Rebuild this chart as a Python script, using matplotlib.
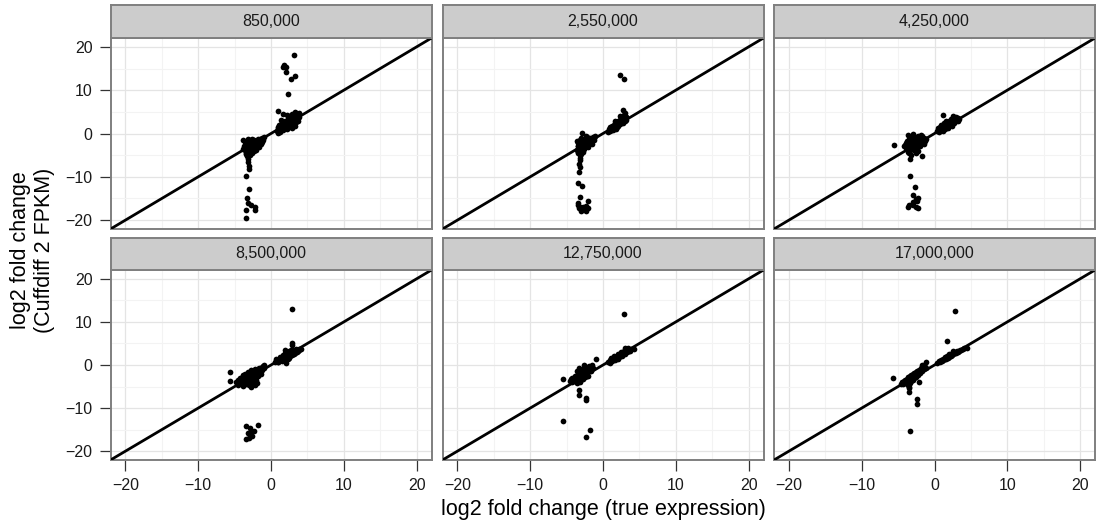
import matplotlib
matplotlib.use("Agg")
import matplotlib.pyplot as plt

plt.rcParams['font.family'] = ['Liberation Sans', 'DejaVu Sans']

# ---------------- data ----------------
facet_labels = ["850,000", "2,550,000", "4,250,000",
                "8,500,000", "12,750,000", "17,000,000"]

pts_850k = [
    # negative cluster
    (-3.8, -1.5), (-3.7, -2.8), (-3.6, -3.9), (-3.5, -4.8), (-3.4, -2.2), (-3.3, -3.3),
    (-3.2, -1.2), (-3.1, -4.1), (-3.0, -2.6), (-2.9, -3.6), (-2.8, -1.8), (-2.7, -2.9),
    (-2.6, -4.4), (-2.5, -2.1), (-2.4, -3.2), (-2.3, -1.4), (-2.2, -2.5), (-2.1, -3.7),
    (-2.0, -1.9), (-1.9, -2.8), (-1.8, -1.3), (-1.7, -2.2), (-1.6, -3.1), (-1.5, -1.7),
    (-1.4, -2.5), (-1.3, -1.1), (-1.2, -1.9), (-1.1, -1.4), (-3.6, -2.0), (-3.3, -5.2),
    (-2.9, -4.9), (-3.5, -3.0), (-2.6, -1.3), (-2.0, -3.0), (-1.0, -0.9), (-3.9, -3.5),
    (-3.0, -1.6), (-2.4, -4.0), (-3.7, -3.3), (-3.4, -4.4), (-3.2, -2.7), (-2.8, -2.4),
    (-2.5, -3.6), (-2.2, -1.8), (-1.9, -2.2), (-1.6, -2.0), (-3.0, -3.2), (-3.5, -1.9),
    (-2.7, -3.8), (-2.3, -2.9), (-1.5, -1.2), (-1.2, -1.4),
    # negative tail
    (-3.2, -5.8), (-3.1, -6.5), (-3.07, -7.5), (-3.07, -8.3), (-3.4, -9.8), (-3.0, -12.7),
    (-3.25, -15.0), (-3.1, -16.0), (-2.7, -16.5), (-2.25, -16.9), (-2.2, -17.7),
    (-3.4, -17.7), (-3.5, -19.5),
    # positive cluster
    (0.8, 0.5), (0.9, 1.3), (1.0, 0.2), (1.1, 2.0), (1.2, 1.0), (1.3, 0.6), (1.4, 1.8),
    (1.5, 2.6), (1.6, 1.2), (1.7, 0.8), (1.8, 2.2), (1.9, 3.0), (2.0, 1.5), (2.1, 2.7),
    (2.2, 1.0), (2.3, 3.4), (2.4, 2.0), (2.5, 4.0), (2.6, 2.5), (2.7, 1.4), (2.8, 3.2),
    (2.9, 4.6), (3.0, 2.2), (3.1, 3.8), (3.2, 2.9), (3.3, 4.9), (3.4, 3.3), (3.5, 2.6),
    (3.6, 4.2), (3.7, 3.5), (3.8, 4.8), (2.2, 4.3), (1.4, 3.1), (2.9, 1.2), (3.3, 1.8),
    (3.9, 3.9), (1.0, 1.6), (1.2, 0.4), (1.6, 2.0), (2.0, 2.4), (2.4, 3.0), (2.6, 1.8),
    (2.8, 2.4), (3.0, 3.4), (3.2, 4.2), (3.5, 3.8), (3.7, 2.9), (2.3, 1.6), (1.8, 1.4),
    (3.4, 4.5), (2.7, 3.8),
    # positive tail
    (0.9, 5.1), (1.7, 4.4), (2.3, 9.2), (2.75, 12.5), (3.3, 13.2), (2.1, 14.1),
    (1.6, 15.4), (2.07, 15.4), (1.75, 15.8), (3.1, 18.2),
]

pts_2550k = [
    (-3.6, -1.8), (-3.5, -3.0), (-3.4, -4.2), (-3.3, -2.4), (-3.2, -3.6), (-3.1, -1.4),
    (-3.0, -4.8), (-2.9, -2.8), (-2.8, -1.9), (-2.7, -3.3), (-2.6, -2.4), (-2.5, -1.2),
    (-2.4, -3.0), (-2.3, -2.0), (-2.2, -0.8), (-2.1, -2.7), (-2.0, -1.6), (-1.9, -2.3),
    (-1.8, -1.0), (-1.7, -1.9), (-1.6, -1.3), (-1.5, -2.5), (-1.4, -0.9), (-1.3, -1.6),
    (-1.2, -1.1), (-1.1, -0.6), (-3.5, -2.2), (-3.2, -5.0), (-2.8, -4.2), (-2.9, 0.1),
    (-2.4, -0.5), (-3.0, -3.9), (-2.0, -3.2), (-3.6, -3.8), (-3.4, -3.0), (-3.3, -1.8),
    (-3.1, -2.4), (-2.9, -3.4), (-2.7, -2.1), (-2.5, -2.6), (-2.3, -1.4), (-2.2, -2.2),
    (-1.9, -1.5), (-1.7, -1.2), (-3.5, -4.4), (-3.0, -1.0), (-2.6, -3.6), (-1.4, -1.5),
    (-3.2, -5.6), (-3.2, -6.2), (-3.25, -7.0), (-3.2, -7.7), (-3.3, -8.9), (-3.5, -11.4),
    (-2.95, -12.2), (-3.2, -14.6), (-2.05, -15.5), (-3.4, -16.1), (-3.5, -16.5),
    (-3.2, -16.9), (-2.8, -16.9), (-2.4, -16.8), (-2.0, -17.2), (-3.0, -17.8),
    (-2.3, -18.0), (-3.3, -17.3),
    (0.7, 0.4), (0.8, 1.0), (0.9, 0.6), (1.0, 1.4), (1.1, 0.9), (1.2, 1.8), (1.3, 1.2),
    (1.4, 0.7), (1.5, 2.0), (1.6, 1.5), (1.7, 2.4), (1.8, 1.1), (1.9, 2.0), (2.0, 2.8),
    (2.1, 1.7), (2.2, 2.5), (2.3, 3.2), (2.4, 2.1), (2.5, 2.9), (2.6, 3.6), (2.7, 2.5),
    (2.8, 3.3), (2.9, 4.3), (3.0, 2.9), (3.1, 3.7), (3.2, 3.2), (2.7, 5.4), (2.4, 4.0),
    (1.6, 2.9), (3.0, 4.8), (1.2, 1.3), (1.5, 1.4), (1.8, 1.8), (2.1, 2.2), (2.3, 2.6),
    (2.6, 2.8), (2.8, 2.7), (3.0, 3.4), (3.2, 3.9), (2.5, 3.5), (1.9, 1.6), (2.9, 3.8),
    (2.28, 13.5), (2.82, 12.5),
]

pts_4250k = [
    (-4.0, -2.6), (-3.9, -3.4), (-3.8, -1.8), (-3.7, -4.2), (-3.6, -2.8), (-3.5, -1.2),
    (-3.4, -3.7), (-3.3, -2.2), (-3.2, -4.9), (-3.1, -3.0), (-3.0, -1.5), (-2.9, -2.5),
    (-2.8, -3.8), (-2.7, -0.8), (-2.6, -2.0), (-2.5, -3.2), (-2.4, -1.4), (-2.3, -2.6),
    (-2.2, -0.5), (-2.1, -1.8), (-2.0, -3.0), (-1.9, -1.1), (-1.8, -2.2), (-1.7, -0.6),
    (-1.6, -1.6), (-1.5, -2.4), (-1.4, -1.0), (-1.3, -1.8), (-1.2, -1.2), (-3.3, -5.8),
    (-1.7, -5.2), (-2.6, -4.4), (-3.6, -0.4), (-2.9, 0.0), (-4.2, -3.0), (-2.2, -4.0),
    (-3.9, -2.2), (-3.7, -3.0), (-3.4, -2.8), (-3.2, -1.8), (-3.0, -3.6), (-2.8, -1.6),
    (-2.7, -2.8), (-2.5, -1.8), (-2.3, -1.2), (-2.1, -2.4), (-1.9, -1.8), (-1.6, -1.1),
    (-3.5, -4.4), (-2.4, -3.4), (-1.8, -0.4), (-3.1, -0.8),
    (-5.6, -2.7),
    (-3.3, -9.8), (-2.7, -12.3), (-2.9, -14.1), (-2.6, -15.2), (-2.4, -15.6), (-2.9, -15.9),
    (-2.2, -15.0), (-3.5, -16.4), (-3.0, -16.6), (-2.6, -16.9), (-3.7, -17.0), (-2.3, -17.3),
    (0.4, 0.6), (0.5, 1.2), (0.6, 0.3), (0.7, 1.5), (0.8, 0.9), (0.9, 2.0), (1.0, 1.2),
    (1.1, 0.5), (1.2, 1.8), (1.3, 2.5), (1.4, 1.1), (1.5, 2.1), (1.6, 3.0), (1.7, 1.6),
    (1.8, 2.4), (1.9, 1.3), (2.0, 2.9), (2.1, 2.0), (2.2, 3.3), (2.3, 2.5), (2.4, 1.8),
    (2.5, 3.0), (2.6, 3.6), (2.7, 2.4), (2.8, 3.2), (2.9, 2.8), (3.0, 3.8), (3.1, 3.1),
    (3.2, 3.5), (3.3, 3.3), (1.2, 4.2), (2.5, 4.0), (0.9, 1.3), (1.1, 1.6), (1.4, 1.9),
    (1.7, 2.2), (1.9, 2.1), (2.1, 2.6), (2.3, 2.9), (2.6, 2.8), (2.8, 2.8), (3.0, 3.1),
    (2.7, 3.6), (3.2, 3.0), (1.6, 1.6),
]

pts_8500k = [
    (-4.8, -4.0), (-4.6, -3.4), (-4.5, -4.6), (-4.3, -3.0), (-4.2, -4.1), (-4.0, -3.6),
    (-3.9, -2.4), (-3.8, -4.8), (-3.7, -3.2), (-3.6, -2.0), (-3.5, -4.3), (-3.4, -2.8),
    (-3.3, -3.8), (-3.2, -1.6), (-3.1, -3.0), (-3.0, -4.6), (-2.9, -2.2), (-2.8, -3.4),
    (-2.7, -1.2), (-2.6, -2.6), (-2.5, -3.9), (-2.4, -1.8), (-2.3, -2.9), (-2.2, -0.9),
    (-2.1, -2.2), (-2.0, -3.4), (-1.9, -1.4), (-1.8, -2.5), (-1.7, -0.6), (-1.6, -1.7),
    (-1.5, -1.0), (-1.4, -2.0), (-1.3, -0.4), (-1.2, -1.2), (-1.1, -0.2), (-1.0, -0.8),
    (-0.9, 0.1), (-2.2, -4.6), (-2.8, -5.0), (-1.9, -4.2), (-4.4, -3.6), (-4.1, -3.0),
    (-3.8, -3.6), (-3.6, -3.2), (-3.4, -4.0), (-3.2, -2.6), (-3.0, -3.4), (-2.8, -2.6),
    (-2.6, -1.8), (-2.4, -3.0), (-2.2, -2.0), (-2.0, -1.6), (-1.8, -1.0), (-1.6, -1.0),
    (-3.9, -4.2), (-2.5, -2.2), (-2.1, -1.2), (-1.4, -0.9),
    (-5.7, -1.6), (-5.7, -3.8),
    (-3.4, -14.2), (-1.8, -13.9), (-2.9, -14.7), (-2.7, -15.3), (-2.3, -15.4),
    (-3.1, -15.8), (-2.6, -16.4), (-3.4, -17.2), (-3.0, -16.9),
    (0.5, 0.8), (0.7, 1.4), (0.9, 0.6), (1.1, 1.2), (1.3, 1.8), (1.5, 0.9), (1.6, 2.3),
    (1.8, 1.6), (1.9, 2.7), (2.0, 0.5), (2.1, 2.0), (2.2, 2.9), (2.3, 1.4), (2.4, 2.4),
    (2.5, 3.2), (2.6, 2.0), (2.7, 2.8), (2.8, 3.5), (2.9, 2.3), (3.0, 3.0), (3.1, 2.6),
    (3.2, 3.3), (3.3, 2.9), (3.5, 3.6), (3.7, 3.2), (3.9, 3.8), (4.1, 3.6), (2.9, 4.7),
    (2.9, 5.1), (1.9, 3.4), (1.0, 0.8), (1.4, 1.3), (1.7, 2.0), (2.0, 1.8), (2.2, 2.2),
    (2.4, 3.0), (2.6, 2.6), (2.8, 2.6), (3.0, 3.4), (3.2, 2.8), (3.4, 3.3), (3.6, 3.0),
    (3.8, 3.4), (2.5, 1.6),
    (2.86, 12.9),
]

pts_12750k = [
    (-4.5, -3.6), (-4.3, -3.0), (-4.2, -4.0), (-4.0, -3.3), (-3.9, -2.5), (-3.8, -3.8),
    (-3.7, -2.9), (-3.6, -4.2), (-3.5, -2.2), (-3.4, -3.4), (-3.3, -1.7), (-3.2, -2.7),
    (-3.1, -3.9), (-3.0, -1.4), (-2.9, -2.4), (-2.8, -3.3), (-2.7, -1.0), (-2.6, -2.0),
    (-2.5, -2.9), (-2.4, -0.9), (-2.3, -1.7), (-2.2, -2.6), (-2.1, -0.6), (-2.0, -1.4),
    (-1.9, -0.2), (-1.8, -1.0), (-1.7, -0.5), (-1.6, -1.3), (-1.5, 0.0), (-1.4, -0.6),
    (-3.3, -0.6), (-2.6, 0.1), (-2.0, -2.5), (-3.6, -1.4), (-4.4, -3.3), (-4.1, -3.6),
    (-3.8, -2.8), (-3.6, -3.2), (-3.5, -3.0), (-3.3, -3.0), (-3.1, -2.2), (-2.9, -1.8),
    (-2.7, -2.4), (-2.5, -1.6), (-2.4, -2.2), (-2.2, -1.2), (-2.0, -0.8), (-1.8, -1.5),
    (-3.0, -3.0), (-3.2, -3.6),
    (-1.0, 1.4), (-5.5, -3.2), (-3.3, -5.9), (-3.3, -6.9), (-2.3, -7.6), (-2.3, -8.2),
    (-5.5, -13.0), (-1.8, -15.1), (-2.4, -16.6),
    (0.7, 0.6), (0.9, 1.2), (1.0, 0.4), (1.1, 1.6), (1.2, 0.9), (1.4, 1.4), (1.5, 2.0),
    (1.6, 1.1), (1.7, 1.8), (1.9, 2.2), (2.0, 1.5), (2.1, 2.6), (2.2, 1.9), (2.4, 2.4),
    (2.5, 3.0), (2.6, 2.1), (2.7, 2.8), (2.9, 3.2), (3.0, 2.6), (3.1, 3.4), (3.3, 3.0),
    (3.5, 3.6), (3.7, 3.2), (3.4, 4.0), (3.0, 3.9), (1.3, 1.2), (1.8, 1.6), (2.3, 2.2),
    (2.8, 2.5), (3.2, 3.0), (3.6, 3.3), (3.9, 3.6), (4.2, 3.7), (2.0, 2.0), (2.6, 2.6),
    (3.4, 3.4),
    (2.9, 11.9),
]

pts_17000k = [
    (-4.6, -4.3), (-4.4, -3.9), (-4.3, -4.5), (-4.2, -3.6), (-4.1, -4.2), (-4.0, -3.5),
    (-3.9, -4.0), (-3.8, -3.2), (-3.7, -4.6), (-3.7, -3.7), (-3.6, -2.9), (-3.5, -5.0),
    (-3.5, -3.4), (-3.4, -2.6), (-3.4, -4.2), (-3.3, -3.1), (-3.2, -2.4), (-3.2, -3.8),
    (-3.1, -2.9), (-3.0, -2.1), (-3.0, -3.5), (-2.9, -2.6), (-2.8, -1.9), (-2.8, -3.1),
    (-2.7, -2.3), (-2.6, -1.6), (-2.6, -2.8), (-2.5, -2.0), (-2.4, -1.4), (-2.3, -2.3),
    (-2.2, -1.7), (-2.1, -1.1), (-2.0, -1.9), (-1.9, -1.3), (-1.8, -0.8), (-1.7, -1.4),
    (-1.6, -0.9), (-1.5, -0.5), (-1.4, -1.0), (-1.3, -0.4), (-1.2, -0.7), (-2.1, -3.9),
    (-3.5, -5.4), (-1.7, -0.1), (-1.5, 0.1),
    (-1.1, 0.8), (-5.7, -3.0), (-2.4, -8.0), (-2.4, -9.0), (-3.5, -6.2), (-3.3, -15.3),
    (1.7, 5.6), (2.86, 12.5),
    (0.4, 0.5), (0.6, 0.9), (0.8, 0.7), (0.9, 1.2), (1.0, 0.9), (1.1, 1.4), (1.2, 1.1),
    (1.3, 1.5), (1.4, 1.3), (1.5, 1.8), (1.6, 1.5), (1.7, 2.0), (1.8, 1.7), (1.9, 2.2),
    (2.0, 1.9), (2.1, 2.4), (2.2, 2.1), (2.3, 2.6), (2.4, 2.3), (2.5, 2.8), (2.6, 2.5),
    (2.7, 2.9), (2.8, 2.7), (2.9, 3.1), (3.0, 2.8), (3.1, 3.2), (3.2, 3.0), (3.3, 3.3),
    (3.5, 3.4), (3.7, 3.5), (3.9, 3.7), (4.1, 3.9), (4.4, 4.0), (2.0, 2.6), (2.5, 3.2),
]

panel_points = [pts_850k, pts_2550k, pts_4250k, pts_8500k, pts_12750k, pts_17000k]
tick_values = [-20, -10, 0, 10, 20]
minor_values = [-15, -5, 5, 15]
x_title = "log2 fold change (true expression)"
y_title = "log2 fold change\n(Cuffdiff 2 FPKM)"

# ---------------- layout ----------------
W, H = 1096, 525
fig = plt.figure(figsize=(W / 100, H / 100), dpi=100)
fig.patch.set_facecolor('white')

col_left = [110.5, 442.5, 774.0]
col_w = 321.0
row_plot = [(38.0, 229.0), (270.0, 460.0)]   # top, bottom in px
row_strip = [(5.0, 38.0), (238.0, 270.0)]

lim = 22.05
border_col = '#7f7f7f'

def fmt(v):
    return str(v).replace('-', '\u2212')

for i, pts in enumerate(panel_points):
    r, c = divmod(i, 3)
    top, bot = row_plot[r]
    ax = fig.add_axes([col_left[c] / W, 1 - bot / H, col_w / W, (bot - top) / H])
    ax.set_xlim(-lim, lim)
    ax.set_ylim(-lim, lim)
    ax.set_xticks(tick_values)
    ax.set_yticks(tick_values)
    ax.set_xticks(minor_values, minor=True)
    ax.set_yticks(minor_values, minor=True)
    ax.grid(True, which='major', color='#e4e4e4', linewidth=0.9, zorder=0)
    ax.grid(True, which='minor', color='#f3f3f3', linewidth=0.8, zorder=0)
    ax.set_axisbelow(True)
    for s in ax.spines.values():
        s.set_color(border_col)
        s.set_linewidth(1.4)
    ax.tick_params(which='minor', length=0)
    ax.tick_params(which='major', length=8, width=0.9, color='#333333',
                   labelsize=11.5, labelcolor='#1a1a1a', pad=5)
    if c == 0:
        ax.set_yticklabels([fmt(v) for v in tick_values])
    else:
        ax.tick_params(axis='y', which='major', length=0, labelleft=False)
    if r == 1:
        ax.set_xticklabels([fmt(v) for v in tick_values])
    else:
        ax.tick_params(axis='x', which='major', length=0, labelbottom=False)

    xs = [p[0] for p in pts]
    ys = [p[1] for p in pts]
    ax.scatter(xs, ys, s=17, color='black', linewidths=0, zorder=3)
    ax.axline((0, 0), slope=1, color='black', linewidth=2.0, zorder=4)

    # strip
    stop, sbot = row_strip[r]
    sax = fig.add_axes([col_left[c] / W, 1 - sbot / H, col_w / W, (sbot - stop) / H])
    sax.set_facecolor('#cccccc')
    sax.set_xticks([])
    sax.set_yticks([])
    for s in sax.spines.values():
        s.set_color(border_col)
        s.set_linewidth(1.4)
    sax.text(0.5, 0.5, facet_labels[i], ha='center', va='center',
             fontsize=11.5, color='#1a1a1a', transform=sax.transAxes)

fig.text(603 / W, 1 - 510 / H, x_title, ha='center', va='center',
         fontsize=15.5, color='black')
fig.text(32.5 / W, 1 - 250 / H, y_title, ha='center', va='center',
         rotation=90, fontsize=15.5, color='black', multialignment='center',
         linespacing=1.2)

fig.savefig('out.png', dpi=100, facecolor='white')
